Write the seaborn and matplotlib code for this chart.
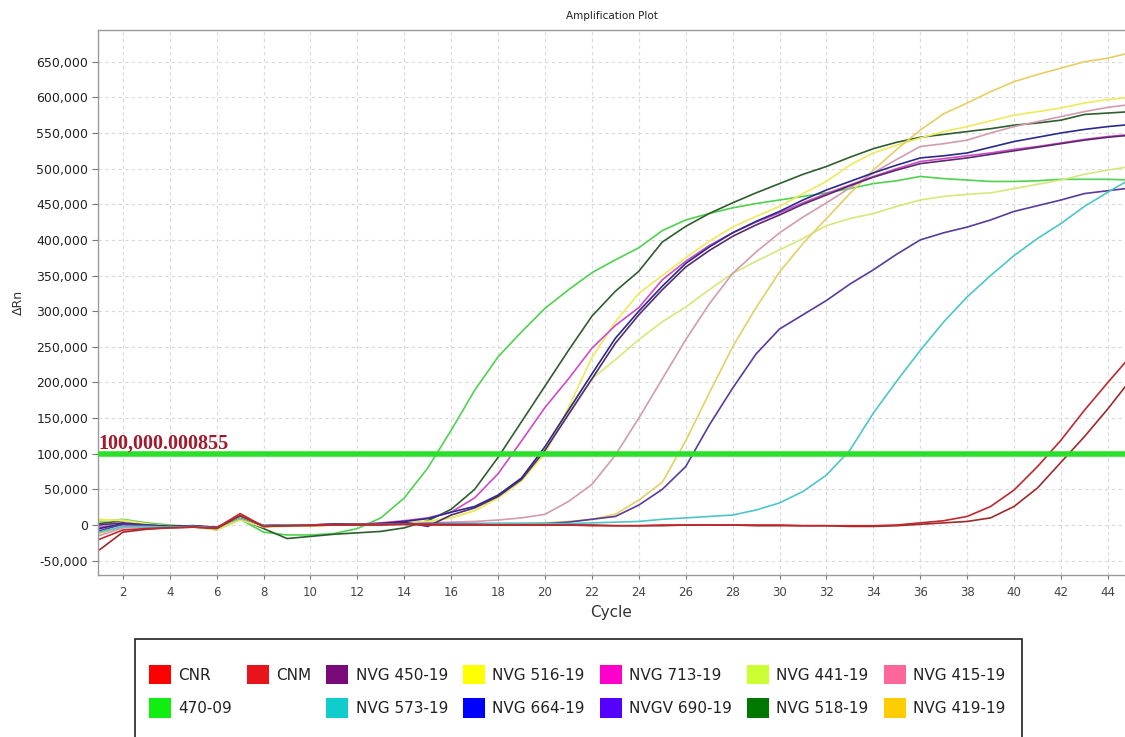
import matplotlib
import numpy as np
import pandas as pd
import seaborn as sns
from matplotlib import pyplot as plt
from matplotlib.patches import Patch, Rectangle
from matplotlib.ticker import FuncFormatter, MultipleLocator
from matplotlib.transforms import blended_transform_factory

matplotlib.use("Agg")

# delta Rn per cycle, in thousands
cycles = list(range(1, 46))

cnr = [-20, -7, -5, -4, -3, -4, 16, -2, -1, 0, 0, 1, 1, 1, 0, 0, 0, 0, 0, 0,
       0, -1, -1, -1, 0, 0, 0, 0, 0, 0, -1, -1, -1, -1, 0, 3, 6, 12, 26, 49,
       82, 119, 161, 200, 238]
cnm = [-35, -10, -6, -4, -3, -5, 13, -2, -1, -1, 0, 0, 0, 1, 1, 0, 0, 0, 0, 0,
       0, 0, -1, -1, -1, 0, 0, 0, -1, -1, -1, -1, -2, -2, -1, 1, 3, 5, 10, 26,
       52, 88, 124, 163, 205]
s470_09 = [5, 8, 3, 0, -2, -7, 8, -10, -14, -14, -12, -5, 10, 38, 80, 133, 189, 236, 271, 304,
           330, 354, 372, 389, 413, 428, 437, 445, 451, 456, 461, 466, 472, 479, 483, 489, 486, 484, 482, 482,
           483, 485, 485, 485, 484]
s518 = [2, 6, 2, -2, -2, -5, 9, -5, -19, -16, -13, -11, -9, -4, 6, 22, 50, 95, 145, 195,
        245, 293, 328, 356, 397, 419, 437, 452, 466, 479, 492, 503, 516, 528, 537, 544, 548, 552, 556, 561,
        564, 568, 576, 578, 580]
s713 = [-3, 0, -2, -3, -2, -4, 12, -1, 0, 0, 1, 1, 3, 6, 10, 18, 38, 72, 118, 165,
        205, 248, 280, 305, 344, 370, 392, 410, 425, 438, 452, 465, 477, 489, 500, 510, 514, 518, 522, 527,
        531, 536, 541, 545, 548]
s664 = [-5, 2, 0, -2, -1, -4, 12, -1, 0, 0, 1, 1, 2, 5, 9, 18, 26, 42, 66, 110,
        161, 212, 262, 300, 335, 367, 390, 410, 426, 440, 456, 470, 482, 494, 505, 515, 518, 522, 530, 538,
        544, 550, 555, 559, 562]
s450 = [0, 3, 0, -2, -1, -3, 11, -1, 0, 0, 1, 1, 2, 4, -2, 14, 24, 40, 64, 105,
        155, 205, 255, 295, 330, 362, 385, 405, 421, 435, 450, 463, 476, 488, 498, 507, 511, 515, 520, 525,
        530, 535, 540, 544, 547]
s516 = [8, 6, 1, -2, -2, -6, 10, -2, -1, -1, 0, 0, 1, 3, 5, 10, 20, 38, 62, 100,
        165, 235, 285, 325, 350, 375, 398, 418, 433, 447, 465, 482, 505, 522, 533, 543, 552, 559, 567, 575,
        580, 585, 592, 597, 600]
s441 = [6, 7, 2, -2, -3, -7, 7, -3, -2, -1, 0, 0, 1, 3, 5, 10, 20, 38, 62, 105,
        158, 205, 232, 260, 285, 306, 330, 353, 370, 386, 402, 420, 430, 437, 447, 456, 461, 464, 466, 472,
        478, 484, 492, 498, 503]
s415 = [-15, -4, -3, -3, -2, -4, 13, -2, -1, 0, 0, 1, 1, 2, 3, 4, 5, 7, 10, 15,
        33, 57, 98, 150, 205, 260, 310, 353, 383, 410, 432, 452, 473, 494, 513, 531, 535, 540, 550, 559,
        566, 573, 580, 586, 590]
s419 = [-12, -3, -3, -3, -2, -5, 14, -2, -1, 0, 0, 0, 1, 1, 2, 2, 2, 2, 2, 3,
        5, 8, 15, 35, 60, 118, 185, 250, 305, 355, 395, 430, 465, 498, 527, 554, 577, 592, 608, 622,
        632, 641, 650, 655, 663]
s690 = [-8, 1, -1, -3, -2, -4, 12, -1, 0, 0, 1, 1, 1, 1, 2, 2, 2, 2, 2, 2,
        4, 8, 12, 28, 50, 82, 140, 192, 240, 275, 295, 315, 338, 358, 380, 400, 410, 418, 428, 440,
        448, 456, 465, 469, 473]
s573 = [-10, -2, -2, -3, -2, -4, 11, -1, 0, 0, 0, 1, 1, 1, 1, 1, 1, 2, 2, 2,
        2, 3, 4, 5, 8, 10, 12, 14, 21, 31, 47, 70, 105, 157, 202, 245, 285, 320, 350, 378,
        402, 423, 447, 467, 486]

threshold = 100_000.000855

samples = {
    "470-09": s470_09,
    "NVG 518-19": s518,
    "NVG 441-19": s441,
    "NVG 516-19": s516,
    "NVG 419-19": s419,
    "NVG 415-19": s415,
    "NVG 713-19": s713,
    "NVG 450-19": s450,
    "NVG 664-19": s664,
    "NVGV 690-19": s690,
    "NVG 573-19": s573,
    "CNM": cnm,
    "CNR": cnr,
}

legend_colors = {
    "CNR": "#FF0000", "CNM": "#E8141C", "NVG 450-19": "#7A0A7A", "NVG 516-19": "#FFFF00",
    "NVG 713-19": "#FF00CC", "NVG 441-19": "#CCFF33", "NVG 415-19": "#FF6699",
    "470-09": "#11EE11", "NVG 573-19": "#11CCCC", "NVG 664-19": "#0000FF",
    "NVGV 690-19": "#5500FF", "NVG 518-19": "#007700", "NVG 419-19": "#FFCC00",
}
line_colors = {
    "CNR": "#C0282D", "CNM": "#9E2A2B", "NVG 450-19": "#5A2A6E", "NVG 516-19": "#EEEA5A",
    "NVG 713-19": "#D04AC8", "NVG 441-19": "#D6E87A", "NVG 415-19": "#D39BB0",
    "470-09": "#4FD24F", "NVG 573-19": "#4CC6C8", "NVG 664-19": "#2A2A8A",
    "NVGV 690-19": "#5A3A9A", "NVG 518-19": "#2E5E2E", "NVG 419-19": "#E6CF62",
}

# legend reads column by column, blank slot under CNM
legend_order = ["CNR", "470-09", "CNM", None, "NVG 450-19", "NVG 573-19",
                "NVG 516-19", "NVG 664-19", "NVG 713-19", "NVGV 690-19",
                "NVG 441-19", "NVG 518-19", "NVG 415-19", "NVG 419-19"]

frames = []
for name, values in samples.items():
    frames.append(pd.DataFrame({
        "cycle": cycles,
        "drn": np.array(values, dtype=float) * 1000,
        "sample": name,
    }))
data = pd.concat(frames, ignore_index=True)

sns.set_theme(style="white")
plt.rcParams["font.family"] = ["DejaVu Sans"]

W, H = 1125, 737
fig = plt.figure(figsize=(W / 100, H / 100), dpi=100)
ax = fig.add_axes([98 / W, 1 - 575 / H, 1 - 98 / W, (575 - 30) / H])

sns.lineplot(
    data=data, x="cycle", y="drn", hue="sample",
    hue_order=list(samples.keys()), palette=line_colors,
    linewidth=1.2, legend=False, ax=ax, estimator=None,
)

ax.axhline(threshold, color="#2BE02B", linewidth=4, zorder=5)
trans = blended_transform_factory(ax.transAxes, ax.transData)
ax.text(0.0, threshold, f"{threshold:,.6f}", transform=trans,
        ha="left", va="bottom", fontsize=14.5, fontweight="bold",
        family="Liberation Serif", color="#A3182A", zorder=6)

ax.set_xlim(0.94, 44.73)
ax.set_ylim(-70150, 694500)
ax.xaxis.set_major_locator(MultipleLocator(2))
ax.yaxis.set_major_locator(MultipleLocator(50000))
ax.yaxis.set_major_formatter(FuncFormatter(lambda v, _: f"{v:,.0f}"))

ax.grid(True, color="#D9D9D9", linestyle=(0, (3, 3)), linewidth=0.8)
ax.set_axisbelow(True)
for side in ["left", "bottom", "top"]:
    ax.spines[side].set_color("#9A9A9A")
    ax.spines[side].set_linewidth(1.0)
ax.spines["right"].set_visible(False)

ax.tick_params(axis="y", which="major", left=True, length=4, width=0.8,
               color="#777777", labelsize=9, labelcolor="#222222", pad=3)
ax.tick_params(axis="x", which="major", bottom=True, length=3, width=0.8,
               color="#777777", labelsize=8.5, labelcolor="#444444", pad=5)

ax.set_title("Amplification Plot", fontsize=7.5, pad=8, color="#222222")
ax.set_xlabel("Cycle", fontsize=11, color="#333333", labelpad=4)
ax.set_ylabel("ΔRn", fontsize=9, color="#333333", labelpad=8)

# legend frame runs past the bottom edge of the picture
fig.patches.append(Rectangle((135 / W, -0.02), (1022 - 135) / W, 1 - 639 / H + 0.02,
                             transform=fig.transFigure, fill=False,
                             edgecolor="#222222", linewidth=1.2))

handles, labels = [], []
for name in legend_order:
    if name is None:
        handles.append(Patch(facecolor="none", edgecolor="none"))
        labels.append("")
    else:
        handles.append(Patch(facecolor=legend_colors[name], edgecolor="none"))
        labels.append(name)

fig.legend(handles, labels, ncol=7, loc="upper left",
           bbox_to_anchor=(149 / W, 1 - 665 / H), frameon=False, borderpad=0,
           borderaxespad=0, fontsize=11, handlelength=1.44, handleheight=1.58,
           handletextpad=0.46, columnspacing=1.0, labelspacing=0.9,
           labelcolor="#222222")

fig.savefig("out.png", dpi=100)
